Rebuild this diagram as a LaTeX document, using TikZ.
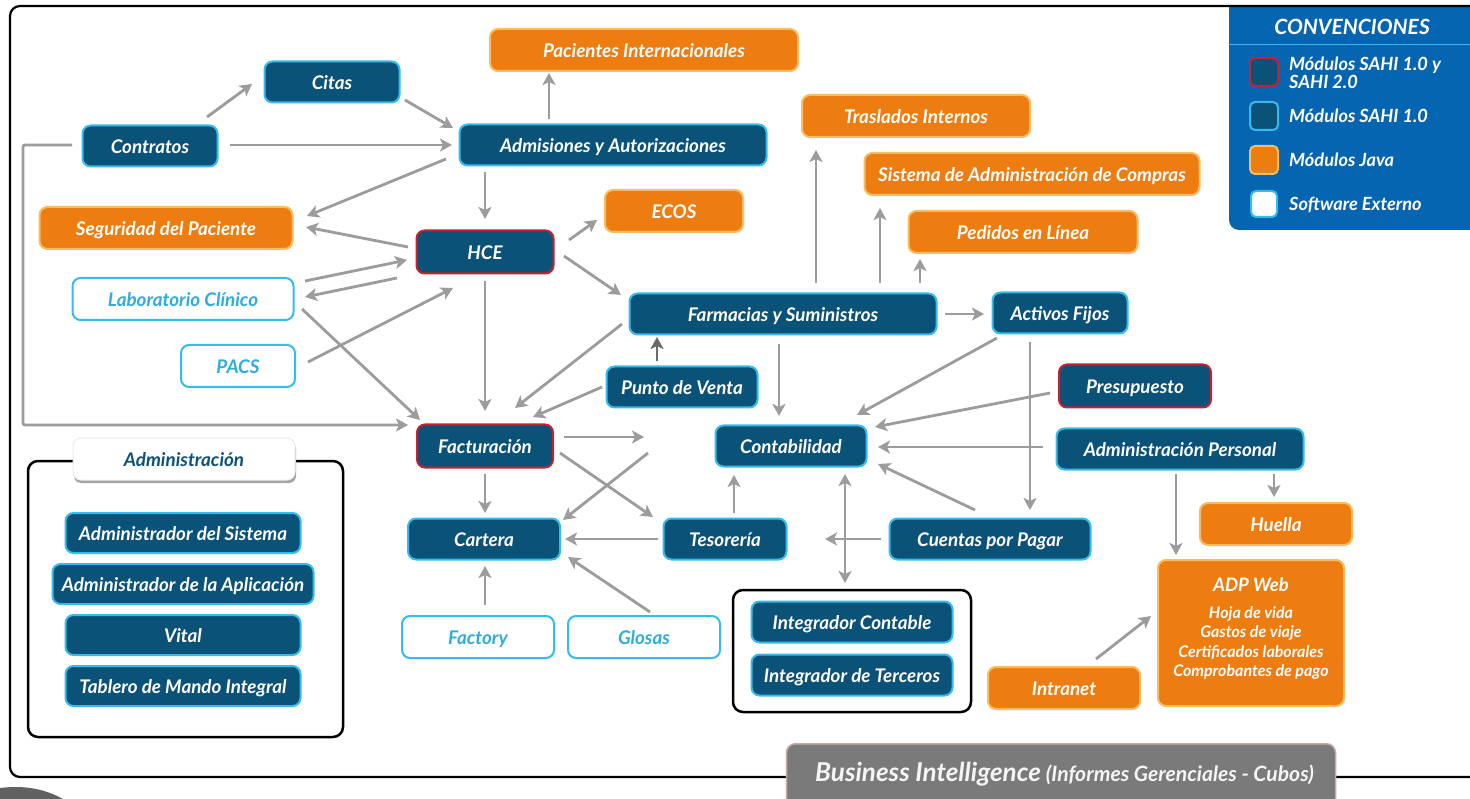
\documentclass[tikz,border=0pt]{standalone}
\usepackage{fontspec}
\setmainfont{Lato}
\usetikzlibrary{arrows.meta,calc,positioning}
\definecolor{navy}{HTML}{0B5279}
\definecolor{skyl}{HTML}{35BCEC}
\definecolor{redb}{HTML}{C9202F}
\definecolor{org}{HTML}{EE7D11}
\definecolor{orgl}{HTML}{F8BC62}
\definecolor{arrg}{HTML}{9C9C9C}
\definecolor{conv}{HTML}{0665B0}
\newcommand{\conn}[7][]{\draw[arr,#1] ($(#2)+(#3,#4)$) -- ($(#5)+(#6,#7)$);}
\tikzset{
 x=1pt,y=-1pt,
 box/.style={rounded corners=8pt,line width=2pt,minimum width=#1,inner sep=0pt,font=\bfseries\itshape\fontsize{18.8}{18.8}\selectfont,text=white,align=center,text height=14.5pt,text depth=0pt},
 navyb/.style={box=#1,fill=navy,draw=skyl,minimum height=41pt},
 redbx/.style={box=#1,fill=navy,draw=redb,minimum height=43pt},
 orgb/.style={box=#1,fill=org,draw=orgl,minimum height=42pt},
 extb/.style={box=#1,fill=white,draw=skyl,text=skyl!85!navy,minimum height=42pt},
 arr/.style={draw=arrg,line width=2.8pt,-{Stealth[inset=3pt,length=12pt,width=13pt]}},
 frame/.style={draw=black,line width=2.5pt,rounded corners=10pt},
 lgt/.style={anchor=west,inner sep=0pt,text=white,align=left,font=\bfseries\itshape\fontsize{18.2}{17.5}\selectfont},
}
\begin{document}
\begin{tikzpicture}
\useasboundingbox (0,0) rectangle (1470,799);
\fill[white] (0,0) rectangle (1470,799);
% legend
\fill[conv,rounded corners=10pt] (1229,-20) rectangle (1500,230);
\draw[skyl,line width=1pt] (1229,45) -- (1470,45);
% frames
\fill[white] (1200,-5) rectangle (1470,5);
\draw[frame,line width=2.2pt] (1480,6) -- (10,6) -- (10,777) -- (1480,777);
\fill[black!62] (0,799) -- (0,788) .. controls (25,785) and (45,789) .. (63,799) -- cycle;
\draw[frame] (295,461) -- (343,461) -- (343,737) -- (28,737) -- (28,461) -- (73,461);
\draw[frame] (733,590) rectangle (971,712);
\node[font=\bfseries\itshape\fontsize{21}{21}\selectfont,text=white] (convt) at (1352,27) {CONVENCIONES};
\node[redbx=28pt,minimum height=28pt,rounded corners=5pt] (lg1) at (1264,72) {};
\node[navyb=28pt,minimum height=28pt,rounded corners=5pt] (lg2) at (1264,116) {};
\node[orgb=28pt,minimum height=28pt,rounded corners=5pt] (lg3) at (1264,160) {};
\node[extb=26pt,minimum height=26pt,rounded corners=5pt] (lg4) at (1264,204) {};
\node[lgt] (lt1) at (1289,73) {Módulos SAHI 1.0 y\\SAHI 2.0};
\node[lgt] (lt2) at (1289,116) {Módulos SAHI 1.0};
\node[lgt] (lt3) at (1289,160) {Módulos Java};
\node[lgt] (lt4) at (1289,205) {Software Externo};
% nodes
\node[navyb=135pt] (contratos) at (150,146) {Contratos};
\node[navyb=135pt] (citas) at (332,82) {Citas};
\node[navyb=307pt] (admisiones) at (613,145) {Admisiones y Autorizaciones};
\node[orgb=308pt] (pacint) at (644,50) {Pacientes Internacionales};
\node[orgb=253pt] (seguridad) at (166,228) {Seguridad del Paciente};
\node[redbx=137pt] (hce) at (485,252) {HCE};
\node[orgb=138pt] (ecos) at (674,211) {ECOS};
\node[extb=221pt] (lab) at (183,299) {Laboratorio Clínico};
\node[extb=114pt] (pacs) at (238,366) {PACS};
\node[navyb=307pt] (farmacias) at (783,314) {Farmacias y Suministros};
\node[navyb=135pt] (activos) at (1060,313) {Activos Fijos};
\node[orgb=228pt] (traslados) at (916,116) {Traslados Internos};
\node[orgb=335pt] (sac) at (1032,174) {Sistema de Administración de Compras};
\node[orgb=229pt] (pedidos) at (1023,232) {Pedidos en Línea};
\node[navyb=151pt] (punto) at (682,387) {Punto de Venta};
\node[redbx=152pt] (presupuesto) at (1135,386) {Presupuesto};
\node[redbx=136pt] (facturacion) at (485,446) {Facturación};
\node[navyb=151pt] (contabilidad) at (791,446) {Contabilidad};
\node[navyb=247pt] (adminper) at (1180,449) {Administración Personal};
\node[navyb=152pt] (cartera) at (484,539) {Cartera};
\node[navyb=123pt] (tesoreria) at (725,539) {Tesorería};
\node[navyb=201pt] (cuentas) at (990,539) {Cuentas por Pagar};
\node[orgb=152pt] (huella) at (1276,524) {Huella};
\node[orgb=186pt,minimum height=146pt,text height=0pt,text depth=0pt] (adp) at (1251,633) {};
\node[font=\bfseries\itshape\fontsize{18.5}{18.5}\selectfont,text=white] (adpt) at (1251,585) {ADP Web};
\node[font=\bfseries\itshape\fontsize{16}{19.4}\selectfont,text=white,align=center] (adpl) at (1251,643) {Hoja de vida\\Gastos de viaje\\Certificados laborales\\Comprobantes de pago};
\node[extb=152pt] (factory) at (478,637) {Factory};
\node[extb=152pt] (glosas) at (644,637) {Glosas};
\node[navyb=201pt] (intcont) at (852,622) {Integrador Contable};
\node[navyb=201pt] (intterc) at (852,675) {Integrador de Terceros};
\node[orgb=152pt] (intranet) at (1064,688) {Intranet};
% administracion
\node[navyb=235pt,minimum height=40pt] (admsis) at (183,533) {Administrador del Sistema};
\node[navyb=261pt,minimum height=40pt] (admapl) at (183,584) {Administrador de la Aplicación};
\node[navyb=235pt,minimum height=40pt] (vital) at (183,635) {Vital};
\node[navyb=235pt,minimum height=40pt] (tablero) at (183,686) {Tablero de Mando Integral};
\fill[gray!70,rounded corners=7pt] (74,442) rectangle (296,483);
\node[box=222pt,minimum height=42pt,fill=white,draw=gray!15,line width=1pt,text=navy] (admt) at (184,459) {Administración};
% BI
\node[fill=black!52,draw=red!25!gray!55,line width=1.5pt,rounded corners=9pt,minimum width=549pt,minimum height=70pt,inner sep=0pt,anchor=north] (bi) at (1061,743) {};
\node[anchor=west,inner sep=0pt,text=white!92!gray,font=\bfseries\itshape\fontsize{26}{26}\selectfont] (bit) at (815,774) {Business Intelligence\hspace{5pt}{\fontsize{21.1}{21.1}\selectfont(Informes Gerenciales - Cubos)}};
% connectors: offsets from node centres
\conn{contratos}{57}{-29}{citas}{-80}{2}
\conn{citas}{73}{18}{admisiones}{-160}{-17}
\conn{contratos}{80}{-1}{admisiones}{-161}{0}
\conn{admisiones}{-64}{-26}{pacint}{-95}{23}
\conn{admisiones}{-167}{14}{seguridad}{141}{-12}
\conn{admisiones}{-128}{27}{hce}{0}{-33}
\conn{hce}{-77}{-5}{seguridad}{140}{-1}
\conn{hce}{84}{-12}{ecos}{-77}{9}
\conn{hce}{79}{4}{farmacias}{-162}{-19}
\conn{lab}{122}{-18}{hce}{-78}{8}
\conn{hce}{-88}{26}{lab}{122}{-2}
\conn{pacs}{70}{-4}{hce}{-32}{36}
\conn{lab}{119}{10}{facturacion}{-65}{-26}
\draw[arr,rounded corners=2pt] ($(contratos)+(-78,-1)$) -- ++(-49,0) |- ($(facturacion)+(-77,-21)$);
\conn{hce}{0}{29}{facturacion}{0}{-35}
\conn{farmacias}{-161}{10}{facturacion}{30}{-38}
\conn{punto}{-80}{0}{facturacion}{48}{-29}
\conn[draw=black!58]{punto}{-25}{-26}{farmacias}{-126}{23}
\conn{farmacias}{-4}{30}{contabilidad}{-12}{-30}
\conn{farmacias}{162}{0}{activos}{-76}{1}
\conn{farmacias}{33}{-31}{traslados}{-100}{34}
\conn{farmacias}{97}{-31}{sac}{-152}{34}
\conn{farmacias}{137}{-31}{pedidos}{-103}{27}
\conn{activos}{-63}{25}{contabilidad}{66}{-31}
\conn{activos}{-30}{29}{cuentas}{40}{-29}
\conn{presupuesto}{-85}{7}{contabilidad}{84}{-19}
\conn{adminper}{-137}{-2}{contabilidad}{87}{1}
\conn{cuentas}{-15}{-29}{contabilidad}{87}{18}
\draw[arr,{Stealth[inset=3pt,length=12pt,width=13pt]}-{Stealth[inset=3pt,length=12pt,width=13pt]}] ($(contabilidad)+(54,28)$) -- ($(intcont)+(-7,-39)$);
\conn{tesoreria}{9}{-26}{contabilidad}{-57}{29}
\conn{cuentas}{-109}{0}{tesoreria}{100}{0}
\conn{tesoreria}{-67}{0}{cartera}{81}{0}
\coordinate (fa1) at (644,437);
\coordinate (fa2) at (648,453);
\draw[arr] ($(facturacion)+(79,-9)$) -- (fa1);
\conn{facturacion}{75}{7}{tesoreria}{-72}{-22}
\draw[arr] (fa2) -- ($(cartera)+(79,-19)$);
\conn{facturacion}{0}{28}{cartera}{1}{-26}
\conn{factory}{7}{-32}{cartera}{1}{27}
\conn{glosas}{6}{-25}{cartera}{84}{18}
\conn{adminper}{94}{25}{huella}{-2}{-27}
\conn{adminper}{-4}{25}{adp}{-75}{-78}
\conn{intranet}{32}{-29}{adp}{-100}{-17}
\end{tikzpicture}
\end{document}
